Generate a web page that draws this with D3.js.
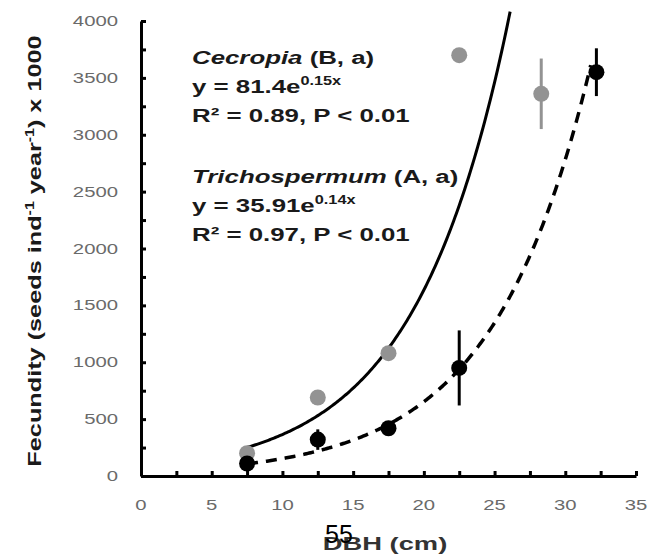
<!DOCTYPE html>
<html>
<head>
<meta charset="utf-8">
<script src="https://cdn.jsdelivr.net/npm/d3@7"></script>
<style>
body { margin: 0; background: #fff; }
svg { display: block; font-family: "Liberation Sans", Arial, sans-serif; }
</style>
</head>
<body>
<svg id="chart" width="651" height="559"></svg>
<script>
// Cecropia (grey) and Trichospermum (black) fecundity by DBH class
const cecropiaDbh = [7.5, 12.5, 17.5, 22.5, 28.3];
const cecropiaFec = [200, 690, 1080, 3700, 3360];
const cecropiaErr = [0, 0, 0, 0, 310];

const trichoDbh = [7.5, 12.5, 17.5, 22.5, 32.2];
const trichoFec = [110, 320, 420, 950, 3550];
const trichoErr = [0, 90, 0, 330, 210];

// exponential fits y = a * e^(b x), with the x span each line covers
const cecropiaFit = [81.4, 0.15];
const cecropiaSpan = [7.5, 26.1];
const trichoFit = [35.91, 0.145];
const trichoSpan = [7.5, 31.8];

const xTickLabels = [0, 5, 10, 15, 20, 25, 30, 35];
const yTickLabels = [0, 500, 1000, 1500, 2000, 2500, 3000, 3500, 4000];

const svg = d3.select("#chart");

const x = d3.scaleLinear().domain([0, 35]).range([141, 636]);
const y = d3.scaleLinear().domain([0, 4000]).range([476, 21]);

// axes: ticks point inwards, minor ticks at half steps
svg.append("g")
    .attr("transform", `translate(0,${y(0)})`)
    .call(d3.axisBottom(x)
        .tickValues(d3.range(0, 35.01, 2.5))
        .tickSizeInner(-5).tickSizeOuter(0).tickFormat(""))
    .call(g => g.selectAll("path, line").attr("stroke", "#000").attr("stroke-width", 3));

svg.append("g")
    .attr("transform", `translate(${x(0)},0)`)
    .call(d3.axisLeft(y)
        .tickValues(d3.range(0, 4001, 250))
        .tickSizeInner(-5).tickSizeOuter(0).tickFormat(""))
    .call(g => g.selectAll("path, line").attr("stroke", "#000").attr("stroke-width", 3));

// tick labels (drawn wide, as in the source figure)
svg.append("g").selectAll("text")
    .data(yTickLabels)
    .enter().append("text")
    .attr("transform", d => `translate(118,${y(d) + 5}) scale(1.45,1)`)
    .attr("text-anchor", "end")
    .attr("font-size", 14)
    .attr("fill", "#6a6a6a")
    .text(d => d);

svg.append("g").selectAll("text")
    .data(xTickLabels)
    .enter().append("text")
    .attr("transform", d => `translate(${x(d)},510) scale(1.45,1)`)
    .attr("text-anchor", "middle")
    .attr("font-size", 14)
    .attr("fill", "#6a6a6a")
    .text(d => d);

// fitted curves
function fitLine(fit, span) {
    const pts = d3.range(span[0], span[1] + 0.001, 0.1)
        .map(v => [v, fit[0] * Math.exp(fit[1] * v)]);
    return d3.line().x(d => x(d[0])).y(d => y(d[1]))(pts);
}

svg.append("defs").append("clipPath").attr("id", "plot")
    .append("rect").attr("x", x(0)).attr("y", 10).attr("width", 520).attr("height", 470);

svg.append("path")
    .attr("d", fitLine(cecropiaFit, cecropiaSpan))
    .attr("clip-path", "url(#plot)")
    .attr("fill", "none")
    .attr("stroke", "#000")
    .attr("stroke-width", 3);

svg.append("path")
    .attr("d", fitLine(trichoFit, trichoSpan))
    .attr("fill", "none")
    .attr("stroke", "#000")
    .attr("stroke-width", 3.5)
    .attr("stroke-dasharray", "11,8");

// points with error bars
function drawSeries(xs, ys, errs, colour) {
    const g = svg.append("g");
    g.selectAll("line")
        .data(xs.map((v, i) => i).filter(i => errs[i] > 0))
        .enter().append("line")
        .attr("x1", i => x(xs[i])).attr("x2", i => x(xs[i]))
        .attr("y1", i => y(ys[i] - errs[i])).attr("y2", i => y(ys[i] + errs[i]))
        .attr("stroke", colour)
        .attr("stroke-width", 3);
    g.selectAll("circle")
        .data(xs.map((v, i) => i))
        .enter().append("circle")
        .attr("cx", i => x(xs[i]))
        .attr("cy", i => y(ys[i]))
        .attr("r", 8)
        .attr("fill", colour);
}
drawSeries(cecropiaDbh, cecropiaFec, cecropiaErr, "#939393");
drawSeries(trichoDbh, trichoFec, trichoErr, "#000");

// annotations
const note = svg.append("g").attr("font-size", 19).attr("font-weight", "bold").attr("fill", "#1a1a1a");
function noteLine(baseline) {
    return note.append("text").attr("transform", `translate(192,${baseline}) scale(1.36,1)`);
}
let t = noteLine(64);
t.append("tspan").attr("font-style", "italic").text("Cecropia");
t.append("tspan").text(" (B, a)");
t = noteLine(93);
t.append("tspan").text("y = 81.4e");
t.append("tspan").attr("font-size", 12).attr("dy", -8).text("0.15x");
noteLine(122).text("R² = 0.89, P < 0.01");
t = noteLine(183);
t.append("tspan").attr("font-style", "italic").text("Trichospermum");
t.append("tspan").text(" (A, a)");
t = noteLine(212);
t.append("tspan").text("y = 35.91e");
t.append("tspan").attr("font-size", 12).attr("dy", -8).text("0.14x");
noteLine(241).text("R² = 0.97, P < 0.01");

// axis titles
const yTitle = svg.append("text")
    .attr("transform", "translate(41,251) rotate(-90) scale(1.33,1)")
    .attr("text-anchor", "middle")
    .attr("font-size", 19)
    .attr("font-weight", "bold")
    .attr("fill", "#1a1a1a");
yTitle.append("tspan").text("Fecundity  (seeds ind");
yTitle.append("tspan").attr("font-size", 12).attr("dy", -7).text("-1");
yTitle.append("tspan").attr("dy", 7).text(" year");
yTitle.append("tspan").attr("font-size", 12).attr("dy", -7).text("-1");
yTitle.append("tspan").attr("dy", 7).text(") x 1000");

svg.append("text")
    .attr("transform", "translate(385,550) scale(1.44,1)")
    .attr("text-anchor", "middle")
    .attr("font-size", 19)
    .attr("font-weight", "bold")
    .attr("fill", "#333")
    .text("DBH (cm)");

svg.append("text")
    .attr("x", 325)
    .attr("y", 543)
    .attr("font-size", 25)
    .attr("fill", "#000")
    .text("55");
</script>
</body>
</html>
